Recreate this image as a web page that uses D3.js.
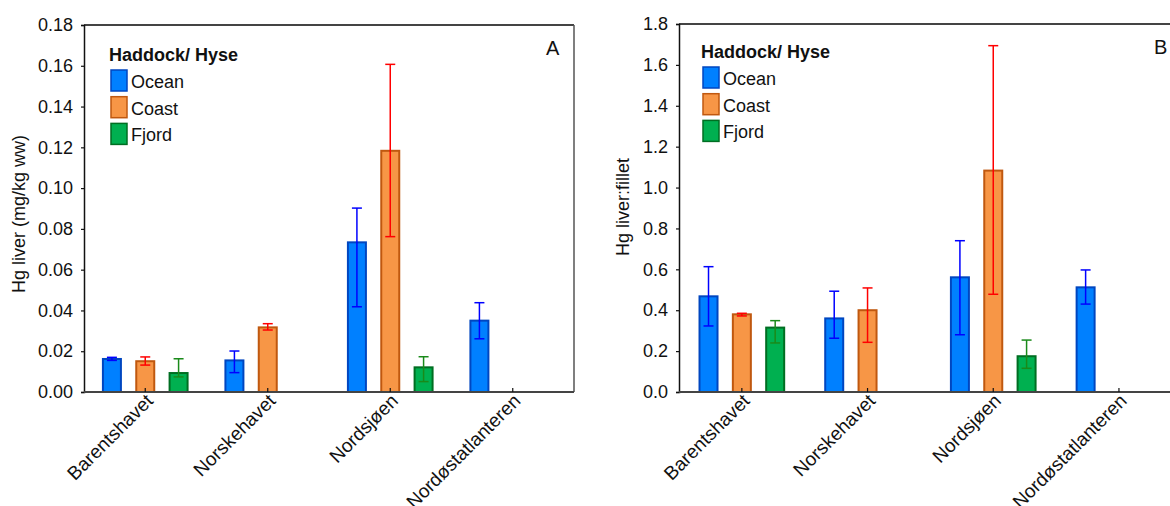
<!DOCTYPE html>
<html>
<head>
<meta charset="utf-8">
<script src="https://cdn.jsdelivr.net/npm/d3@7"></script>
<style>
  html, body { margin: 0; padding: 0; background: #fff; }
  svg { display: block; font-family: "Liberation Sans", Arial, sans-serif; }
</style>
</head>
<body>
<svg id="chart" width="1170" height="506"></svg>
<script>
// Regions and habitat groups
const categories = ["Barentshavet", "Norskehavet", "Nordsjøen", "Nordøstatlanteren"];
const series = ["Ocean", "Coast", "Fjord"];

// Panel A: Hg in liver (mg/kg ww), mean with lower/upper error limits
const liverMean = {
  Ocean: [0.0162, 0.0155, 0.0734, 0.0350],
  Coast: [0.0151, 0.0317, 0.1183, null],
  Fjord: [0.0093, null, 0.0121, null]
};
const liverLow = {
  Ocean: [0.0155, 0.0095, 0.0418, 0.0261],
  Coast: [0.0132, 0.0304, 0.0762, null],
  Fjord: [0.0074, null, 0.0051, null]
};
const liverHigh = {
  Ocean: [0.0170, 0.0201, 0.0902, 0.0438],
  Coast: [0.0172, 0.0335, 0.1607, null],
  Fjord: [0.0163, null, 0.0173, null]
};

// Panel B: liver:fillet ratio
const ratioMean = {
  Ocean: [0.468, 0.360, 0.561, 0.512],
  Coast: [0.380, 0.400, 1.083, null],
  Fjord: [0.315, null, 0.175, null]
};
const ratioLow = {
  Ocean: [0.323, 0.263, 0.280, 0.430],
  Coast: [0.372, 0.243, 0.478, null],
  Fjord: [0.240, null, 0.116, null]
};
const ratioHigh = {
  Ocean: [0.613, 0.493, 0.740, 0.597],
  Coast: [0.385, 0.509, 1.694, null],
  Fjord: [0.349, null, 0.254, null]
};

const ticksA = [0, 0.02, 0.04, 0.06, 0.08, 0.10, 0.12, 0.14, 0.16, 0.18];
const ticksB = [0, 0.2, 0.4, 0.6, 0.8, 1.0, 1.2, 1.4, 1.6, 1.8];

const fillColor = { Ocean: "#0080ff", Coast: "#f79646", Fjord: "#00b050" };
const edgeColor = { Ocean: "#0046c0", Coast: "#c0580f", Fjord: "#006e22" };
const errColor  = { Ocean: "#0000ff", Coast: "#ff0000", Fjord: "#1a8a1a" };

const FONT = "'Liberation Sans', Arial, sans-serif";
const svg = d3.select("#chart");

function drawPanel(opt) {
  const g = svg.append("g");
  const { left, right, top, bottom } = opt;

  const x = d3.scaleBand().domain(categories).range([left, left + opt.bandStep * categories.length]).padding(0);
  const sub = d3.scaleBand().domain(series).range([-50, 50]).paddingInner(0.4).paddingOuter(0.2);
  const y = d3.scaleLinear().domain([0, opt.yMax]).range([bottom, top]);

  // frame
  g.append("line").attr("x1", left).attr("x2", right).attr("y1", top).attr("y2", top)
    .attr("stroke", "#444").attr("stroke-width", 2);
  if (opt.rightBorder) {
    g.append("line").attr("x1", right).attr("x2", right).attr("y1", top).attr("y2", bottom)
      .attr("stroke", "#555").attr("stroke-width", 1.5);
  }

  // bars
  const rows = [];
  series.forEach(s => categories.forEach((c, i) => {
    const v = opt.mean[s][i];
    if (v != null) rows.push({ s, c, v, lo: opt.low[s][i], hi: opt.high[s][i] });
  }));

  const cx = d => x(d.c) + x.bandwidth() / 2 + sub(d.s) + sub.bandwidth() / 2;

  g.selectAll("rect.bar").data(rows).join("rect")
    .attr("class", "bar")
    .attr("x", d => x(d.c) + x.bandwidth() / 2 + sub(d.s) + 1)
    .attr("width", sub.bandwidth() - 2)
    .attr("y", d => y(d.v))
    .attr("height", d => y(0) - y(d.v))
    .attr("fill", d => fillColor[d.s])
    .attr("stroke", d => edgeColor[d.s])
    .attr("stroke-width", 2);

  // error bars
  const eb = g.selectAll("g.err").data(rows).join("g").attr("class", "err")
    .attr("stroke", d => errColor[d.s]).attr("stroke-width", 1.5);
  eb.append("line").attr("x1", cx).attr("x2", cx).attr("y1", d => y(d.lo)).attr("y2", d => y(d.hi));
  eb.append("line").attr("x1", d => cx(d) - 5).attr("x2", d => cx(d) + 5).attr("y1", d => y(d.hi)).attr("y2", d => y(d.hi));
  eb.append("line").attr("x1", d => cx(d) - 5).attr("x2", d => cx(d) + 5).attr("y1", d => y(d.lo)).attr("y2", d => y(d.lo));

  // y axis
  const yAxis = d3.axisLeft(y).tickValues(opt.ticks).tickFormat(d3.format(opt.fmt))
    .tickSize(3).tickPadding(8);
  const ya = g.append("g").attr("transform", `translate(${left},0)`).call(yAxis);
  ya.select(".domain").attr("stroke", "#111").attr("stroke-width", 1.5);
  ya.selectAll(".tick line").attr("stroke", "#111").attr("stroke-width", 1.2);
  ya.selectAll(".tick text").attr("font-size", 18).attr("fill", "#111").attr("font-family", FONT);

  // x axis
  const xAxis = d3.axisBottom(x).tickSize(-4).tickSizeOuter(0).tickPadding(8);
  const xa = g.append("g").attr("transform", `translate(0,${bottom})`).call(xAxis);
  xa.select(".domain").attr("d", `M${left},0H${right}`).attr("stroke", "#444").attr("stroke-width", 2);
  xa.selectAll(".tick line").attr("stroke", "#111").attr("stroke-width", 1.2);
  xa.selectAll(".tick text")
    .attr("font-size", 19).attr("fill", "#111").attr("font-family", FONT)
    .attr("text-anchor", "end")
    .attr("dy", null).attr("y", 0)
    .attr("transform", "translate(9,10) rotate(-45)");

  // y axis title
  g.append("text")
    .attr("transform", `translate(${opt.titleX},${opt.titleY}) rotate(-90)`)
    .attr("text-anchor", "middle").attr("font-size", 18).attr("fill", "#111")
    .text(opt.yTitle);

  // panel letter
  g.append("text").attr("x", opt.letterX).attr("y", opt.letterY)
    .attr("font-size", 20).attr("fill", "#111").text(opt.letter);

  // legend
  const lg = g.append("g").attr("transform", `translate(${opt.legX},${opt.legY})`);
  lg.append("text").attr("x", 0).attr("y", 0).attr("font-size", 18).attr("font-weight", "bold")
    .attr("fill", "#111").text("Haddock/ Hyse");
  series.forEach((s, i) => {
    const row = lg.append("g").attr("transform", `translate(2,${9 + i * 26.7})`);
    row.append("rect").attr("width", 16).attr("height", 21)
      .attr("fill", fillColor[s]).attr("stroke", edgeColor[s]).attr("stroke-width", 1.5);
    row.append("text").attr("x", 20).attr("y", 18).attr("font-size", 18).attr("fill", "#111").text(s);
  });
}

drawPanel({
  left: 84, right: 574, top: 25, bottom: 392, bandStep: 122.5,
  yMax: 0.18, ticks: ticksA, fmt: ".2f",
  mean: liverMean, low: liverLow, high: liverHigh,
  yTitle: "Hg liver (mg/kg ww)", titleX: 25, titleY: 214,
  letter: "A", letterX: 546, letterY: 55,
  legX: 109, legY: 61, rightBorder: true
});

drawPanel({
  left: 679, right: 1190, top: 24, bottom: 392, bandStep: 125.7,
  yMax: 1.8, ticks: ticksB, fmt: ".1f",
  mean: ratioMean, low: ratioLow, high: ratioHigh,
  yTitle: "Hg liver:fillet", titleX: 629, titleY: 207,
  letter: "B", letterX: 1154, letterY: 54,
  legX: 701, legY: 58, rightBorder: false
});
</script>
</body>
</html>
